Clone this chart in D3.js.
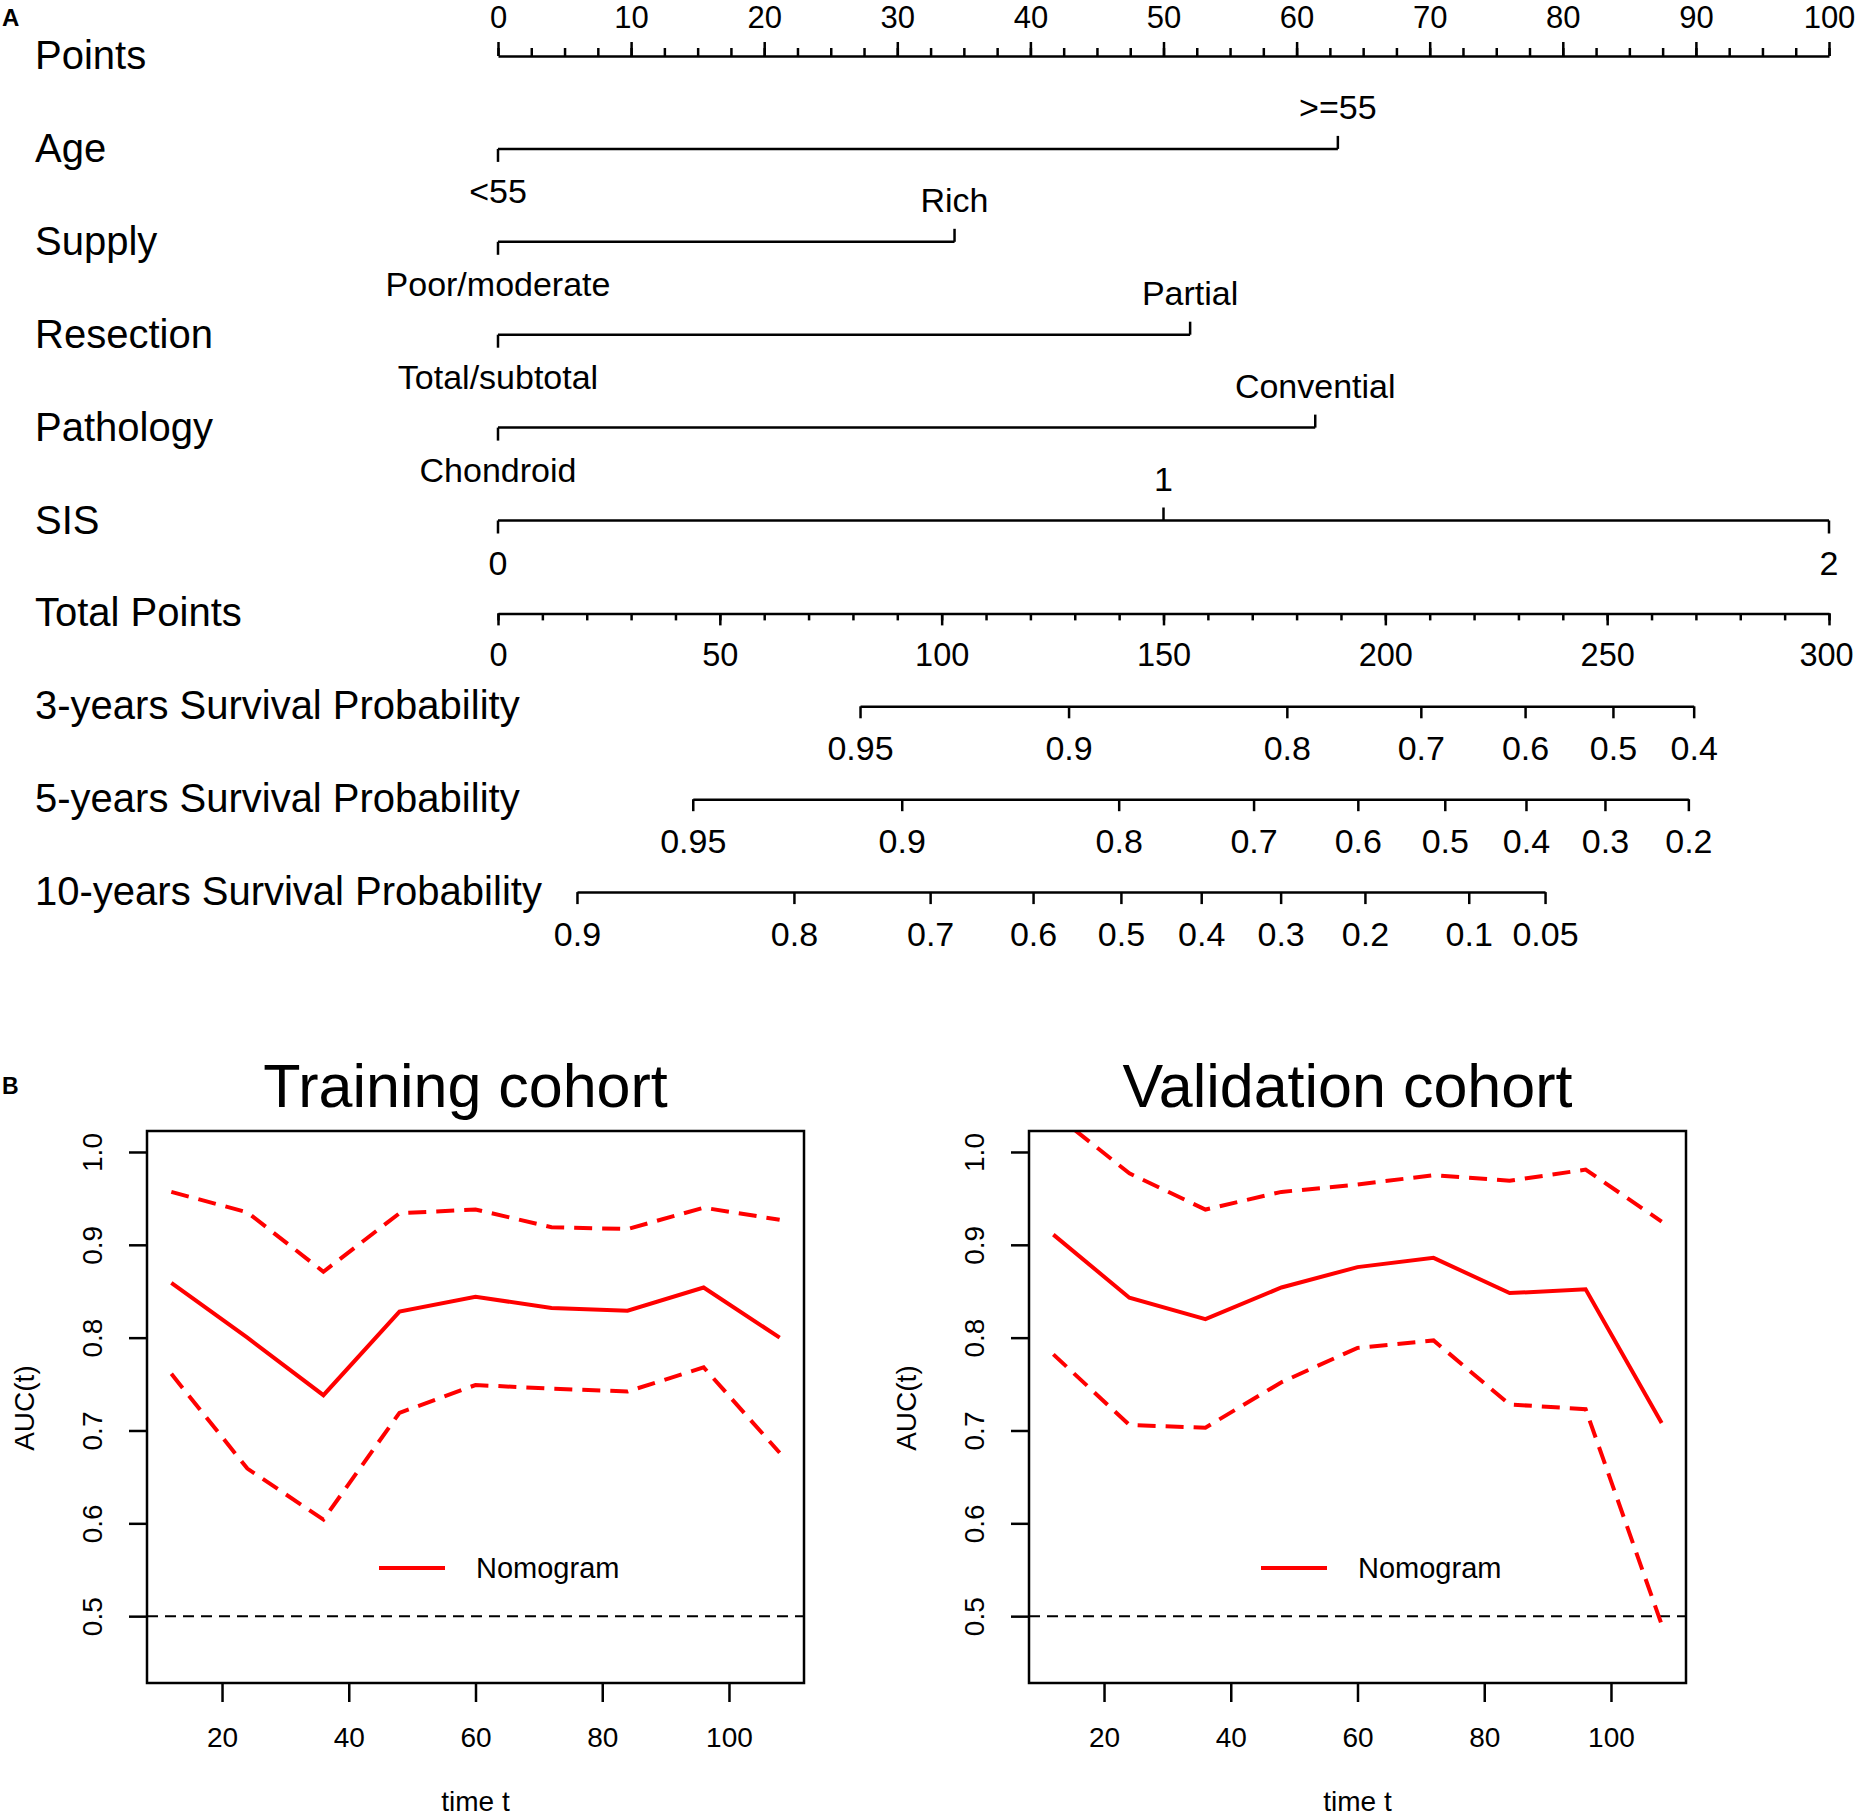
<!DOCTYPE html>
<html>
<head>
<meta charset="utf-8">
<script src="https://cdn.jsdelivr.net/npm/d3@7"></script>
<style>
    body { margin: 0; background: #fff; }
    svg { display: block; font-family: "Liberation Sans", Arial, sans-serif; }
</style>
</head>
<body>
<div id="chart"></div>
<script>
// Data - nomogram
const rowLabels = ['Points', 'Age', 'Supply', 'Resection', 'Pathology', 'SIS',
    'Total Points', '3-years Survival Probability', '5-years Survival Probability',
    '10-years Survival Probability'];

const ageLevels = ['<55', '>=55'];
const agePoints = [0, 63.1];
const supplyLevels = ['Poor/moderate', 'Rich'];
const supplyPoints = [0, 34.3];
const resectionLevels = ['Total/subtotal', 'Partial'];
const resectionPoints = [0, 52.0];
const pathologyLevels = ['Chondroid', 'Convential'];
const pathologyPoints = [0, 61.4];
const sisLevels = ['0', '1', '2'];
const sisPoints = [0, 50, 100];

const surv3Labels = ['0.95', '0.9', '0.8', '0.7', '0.6', '0.5', '0.4'];
const surv3Points = [81.6, 128.6, 177.8, 208.0, 231.5, 251.3, 269.5];
const surv5Labels = ['0.95', '0.9', '0.8', '0.7', '0.6', '0.5', '0.4', '0.3', '0.2'];
const surv5Points = [43.9, 91.0, 139.9, 170.3, 193.8, 213.4, 231.7, 249.5, 268.3];
const surv10Labels = ['0.9', '0.8', '0.7', '0.6', '0.5', '0.4', '0.3', '0.2', '0.1', '0.05'];
const surv10Points = [17.8, 66.7, 97.4, 120.6, 140.4, 158.5, 176.4, 195.4, 218.8, 236.0];

// Data - time dependent AUC
const timePoints = [12, 24, 36, 48, 60, 72, 84, 96, 108];
const timeTicks = [20, 40, 60, 80, 100];
const aucTicks = [0.5, 0.6, 0.7, 0.8, 0.9, 1.0];
const trainAUC = [0.859, 0.800, 0.738, 0.828, 0.844, 0.832, 0.829, 0.854, 0.800];
const trainUpper = [0.957, 0.935, 0.871, 0.934, 0.938, 0.919, 0.917, 0.940, 0.927];
const trainLower = [0.761, 0.659, 0.604, 0.719, 0.749, 0.745, 0.742, 0.768, 0.676];
const validAUC = [0.911, 0.843, 0.820, 0.854, 0.876, 0.886, 0.848, 0.852, 0.708];
const validUpper = [1.042, 0.977, 0.938, 0.957, 0.965, 0.975, 0.969, 0.981, 0.925];
const validLower = [0.782, 0.706, 0.703, 0.752, 0.789, 0.797, 0.728, 0.723, 0.491];

function draw() {
    // Dimensions
    const dimensions = {
        width: 1856,
        height: 1818,
        nomo: { left: 498, right: 1829, top: 56, rowStep: 92.9, labelX: 35 },
        panel: { top: 1131, bottom: 1683, width: 657, lefts: [147, 1029] }
    };

    const svg = d3.select('#chart')
        .append('svg')
        .attr('width', dimensions.width)
        .attr('height', dimensions.height);

    svg.append('rect')
        .attr('width', dimensions.width)
        .attr('height', dimensions.height)
        .attr('fill', '#fff');

    const styleAxis = (g, fontSize) => {
        g.attr('font-family', null).attr('font-size', fontSize);
        g.selectAll('line, path').attr('stroke', '#000').attr('stroke-width', 2.5);
        g.selectAll('text').attr('fill', '#000');
    };

    // ---------- Panel A: nomogram ----------
    const rowY = i => dimensions.nomo.top + i * dimensions.nomo.rowStep;

    const pointsScale = d3.scaleLinear()
        .domain([0, 100])
        .range([dimensions.nomo.left, dimensions.nomo.right]);

    const totalScale = d3.scaleLinear()
        .domain([0, 300])
        .range([dimensions.nomo.left, dimensions.nomo.right]);

    svg.append('text')
        .attr('x', 2).attr('y', 26)
        .attr('font-size', 24).attr('font-weight', 'bold')
        .text('A');

    svg.append('g')
        .selectAll('text')
        .data(rowLabels)
        .join('text')
        .attr('x', dimensions.nomo.labelX)
        .attr('y', (d, i) => rowY(i) + 13)
        .attr('font-size', 40)
        .text(d => d);

    // Points axis
    const minorPoints = svg.append('g')
        .attr('transform', `translate(0,${rowY(0)})`)
        .call(d3.axisTop(pointsScale)
            .tickValues(d3.range(0, 100.1, 2.5))
            .tickSize(8)
            .tickSizeOuter(0)
            .tickFormat(''));
    styleAxis(minorPoints, 30);

    const majorPoints = svg.append('g')
        .attr('transform', `translate(0,${rowY(0)})`)
        .call(d3.axisTop(pointsScale)
            .tickValues(d3.range(0, 101, 10))
            .tickSize(14)
            .tickSizeOuter(0)
            .tickPadding(14));
    styleAxis(majorPoints, 31);
    majorPoints.select('.domain').remove();

    // Categorical variables
    const variables = [
        { levels: ageLevels, points: agePoints },
        { levels: supplyLevels, points: supplyPoints },
        { levels: resectionLevels, points: resectionPoints },
        { levels: pathologyLevels, points: pathologyPoints },
        { levels: sisLevels, points: sisPoints }
    ];

    variables.forEach((v, vi) => {
        const g = svg.append('g')
            .attr('transform', `translate(0,${rowY(vi + 1)})`);

        g.append('line')
            .attr('x1', pointsScale(d3.min(v.points)))
            .attr('x2', pointsScale(d3.max(v.points)))
            .attr('stroke', '#000')
            .attr('stroke-width', 2.5);

        const lvl = g.selectAll('g')
            .data(v.levels)
            .join('g')
            .attr('transform', (d, i) => `translate(${pointsScale(v.points[i])},0)`);

        lvl.append('line')
            .attr('y2', (d, i) => i % 2 === 0 ? 13 : -13)
            .attr('stroke', '#000')
            .attr('stroke-width', 2.5);

        lvl.append('text')
            .attr('y', (d, i) => i % 2 === 0 ? 54 : -30)
            .attr('text-anchor', 'middle')
            .attr('font-size', 34)
            .text(d => d);
    });

    // Total points axis
    const minorTotal = svg.append('g')
        .attr('transform', `translate(0,${rowY(6)})`)
        .call(d3.axisBottom(totalScale)
            .tickValues(d3.range(0, 301, 10))
            .tickSize(7)
            .tickSizeOuter(0)
            .tickFormat(''));
    styleAxis(minorTotal, 33);

    const majorTotal = svg.append('g')
        .attr('transform', `translate(0,${rowY(6)})`)
        .call(d3.axisBottom(totalScale)
            .tickValues(d3.range(0, 301, 50))
            .tickSize(12)
            .tickSizeOuter(0)
            .tickPadding(18));
    styleAxis(majorTotal, 32.5);
    majorTotal.select('.domain').remove();
    majorTotal.selectAll('.tick text')
        .filter(d => d === 300)
        .attr('dx', -3);

    // Survival probability axes
    const survRows = [
        { labels: surv3Labels, points: surv3Points },
        { labels: surv5Labels, points: surv5Points },
        { labels: surv10Labels, points: surv10Points }
    ];

    survRows.forEach((row, ri) => {
        const ext = d3.extent(row.points);
        const rowScale = totalScale.copy()
            .domain(ext)
            .range(ext.map(totalScale));

        const g = svg.append('g')
            .attr('transform', `translate(0,${rowY(7 + ri)})`)
            .call(d3.axisBottom(rowScale)
                .tickValues(row.points)
                .tickFormat((d, i) => row.labels[i])
                .tickSize(12)
                .tickSizeOuter(0)
                .tickPadding(18));
        styleAxis(g, 34);
    });

    // ---------- Panel B: time dependent AUC ----------
    svg.append('text')
        .attr('x', 2).attr('y', 1094)
        .attr('font-size', 23).attr('font-weight', 'bold')
        .text('B');

    const panels = [
        { title: 'Training cohort', auc: trainAUC, upper: trainUpper, lower: trainLower },
        { title: 'Validation cohort', auc: validAUC, upper: validUpper, lower: validLower }
    ];

    const yScale = d3.scaleLinear()
        .domain([0.428, 1.0226])
        .range([dimensions.panel.bottom, dimensions.panel.top]);

    panels.forEach((p, pi) => {
        const left = dimensions.panel.lefts[pi];
        const right = left + dimensions.panel.width;

        const xScale = d3.scaleLinear()
            .domain([8.16, 111.84])
            .range([left, right]);

        const ctr = svg.append('g');

        const clipId = `clip-${pi}`;
        ctr.append('clipPath')
            .attr('id', clipId)
            .append('rect')
            .attr('x', left)
            .attr('y', dimensions.panel.top)
            .attr('width', dimensions.panel.width)
            .attr('height', dimensions.panel.bottom - dimensions.panel.top);

        // Title
        ctr.append('text')
            .attr('x', (left + right) / 2 - 10)
            .attr('y', 1107)
            .attr('text-anchor', 'middle')
            .attr('font-size', 61)
            .text(p.title);

        // Reference line at 0.5
        ctr.append('line')
            .attr('x1', left).attr('x2', right)
            .attr('y1', yScale(0.5)).attr('y2', yScale(0.5))
            .attr('stroke', '#000')
            .attr('stroke-width', 2)
            .attr('stroke-dasharray', '11,7');

        // Lines
        const line = d3.line()
            .x((d, i) => xScale(timePoints[i]))
            .y(d => yScale(d));

        const lines = ctr.append('g').attr('clip-path', `url(#${clipId})`);

        [p.upper, p.lower].forEach(series => {
            lines.append('path')
                .datum(series)
                .attr('d', line)
                .attr('fill', 'none')
                .attr('stroke', '#ff0000')
                .attr('stroke-width', 4)
                .attr('stroke-dasharray', '18,10');
        });

        lines.append('path')
            .datum(p.auc)
            .attr('d', line)
            .attr('fill', 'none')
            .attr('stroke', '#ff0000')
            .attr('stroke-width', 4);

        // Axes
        const xAxisGroup = ctr.append('g')
            .attr('transform', `translate(0,${dimensions.panel.bottom})`)
            .call(d3.axisBottom(xScale)
                .tickValues(timeTicks)
                .tickSize(19)
                .tickSizeOuter(0)
                .tickPadding(25));
        styleAxis(xAxisGroup, 28);
        xAxisGroup.select('.domain').remove();

        const yAxisGroup = ctr.append('g')
            .attr('transform', `translate(${left},0)`)
            .call(d3.axisLeft(yScale)
                .tickValues(aucTicks)
                .tickFormat(d3.format('.1f'))
                .tickSize(18)
                .tickSizeOuter(0));
        styleAxis(yAxisGroup, 28);
        yAxisGroup.select('.domain').remove();
        yAxisGroup.selectAll('.tick text')
            .attr('x', null)
            .attr('dy', null)
            .attr('text-anchor', 'middle')
            .attr('transform', 'translate(-45,0) rotate(-90)');

        // Box
        ctr.append('rect')
            .attr('x', left)
            .attr('y', dimensions.panel.top)
            .attr('width', dimensions.panel.width)
            .attr('height', dimensions.panel.bottom - dimensions.panel.top)
            .attr('fill', 'none')
            .attr('stroke', '#000')
            .attr('stroke-width', 2.5);

        // Axis titles
        ctr.append('text')
            .attr('x', (left + right) / 2)
            .attr('y', 1811)
            .attr('text-anchor', 'middle')
            .attr('font-size', 28)
            .text('time t');

        ctr.append('text')
            .attr('text-anchor', 'middle')
            .attr('font-size', 28)
            .attr('transform', `translate(${left - 113},${(yScale(0.5) + yScale(1.0)) / 2 + 24}) rotate(-90)`)
            .text('AUC(t)');

        // Legend
        const legend = ctr.append('g')
            .attr('transform', `translate(${left + 232},1568)`);

        legend.append('line')
            .attr('x2', 66)
            .attr('stroke', '#ff0000')
            .attr('stroke-width', 4);

        legend.append('text')
            .attr('x', 97)
            .attr('y', 10)
            .attr('font-size', 29)
            .text('Nomogram');
    });
}

draw();
</script>
</body>
</html>
